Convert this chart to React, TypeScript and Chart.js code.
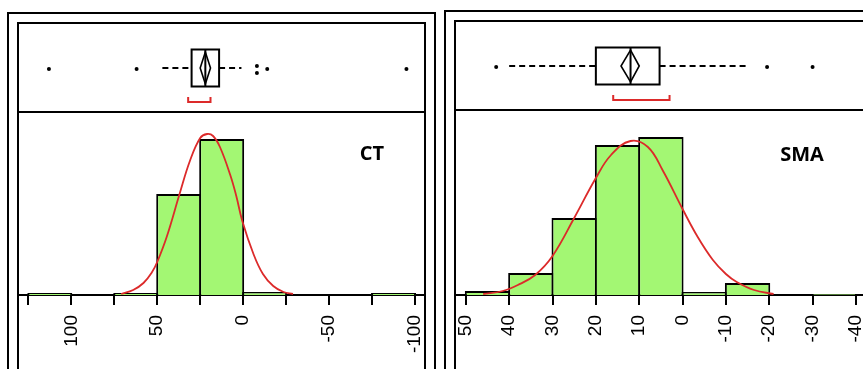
import React, { useEffect, useRef } from 'react';
import { Chart, registerables } from 'chart.js';

Chart.register(...registerables);

// ---------- CT panel data ----------
const ctTitle = 'CT';
const ctBinCenters = [112.5, 87.5, 62.5, 37.5, 12.5, -12.5, -37.5, -62.5, -87.5];
const ctCounts = [2, 0, 2, 101, 156, 3, 0, 0, 2];
const ctCurveX = [71, 64, 58, 53, 50, 44.5, 37, 31, 25, 21, 17.5, 13.5, 7.5, 4, 0.5, -6, -11.5, -17.5, -23.5, -29];
const ctCurveY = [1, 5, 12, 23, 33, 58, 101, 134, 157, 161, 159, 148, 120, 99, 74, 41, 21, 9, 3, 1];
const ctQuartiles = [14, 22, 30]; // Q1, median, Q3
const ctWhiskers = [1, 47];
const ctMean = 22;
const ctMeanCI = [19, 25];
const ctShortestHalf = [19, 32];
const ctOutliers = [113, 62, -8, -8, -14, -95];
const ctTickLabels = [100, 50, 0, -50, -100];
const ctTickStep = 25;
const ctAxisRange = [-105.8, 131];

// ---------- SMA panel data ----------
const smaTitle = 'SMA';
const smaBinCenters = [45, 35, 25, 15, 5, -5, -15, -25, -35];
const smaCounts = [4, 22, 77, 150, 158, 3, 12, 0, 1];
const smaCurveX = [46, 41.5, 38, 34, 30, 25, 20, 16.5, 12, 8, 4.5, 0, -3.5, -7, -10, -12.5, -16.5, -21];
const smaCurveY = [1, 4, 10, 20, 39, 77, 117, 140, 154, 148, 124, 86, 58, 35, 21, 13, 5, 1];
const smaQuartiles = [5.3, 12, 20];
const smaWhiskers = [-15, 40];
const smaMean = 12;
const smaMeanCI = [10, 14.2];
const smaShortestHalf = [3, 16];
const smaOutliers = [43, -19.5, -30];
const smaTickLabels = [50, 40, 30, 20, 10, 0, -10, -20, -30, -40];
const smaTickStep = 10;
const smaAxisRange = [-44.4, 52.5];

const GREEN = '#a3f773';
const RED = '#dc2a2a';

type Panel = {
  title: string;
  binCenters: number[];
  counts: number[];
  curveX: number[];
  curveY: number[];
  quartiles: number[];
  whiskers: number[];
  mean: number;
  meanCI: number[];
  shortestHalf: number[];
  outliers: number[];
  tickLabels: number[];
  tickStep: number;
  range: number[];
  pad: { left: number; right: number; top: number };
  yMax: number;
  titleDX: number;
  titleDY: number;
};

const panels: Panel[] = [
  {
    title: ctTitle, binCenters: ctBinCenters, counts: ctCounts, curveX: ctCurveX, curveY: ctCurveY,
    quartiles: ctQuartiles, whiskers: ctWhiskers, mean: ctMean, meanCI: ctMeanCI,
    shortestHalf: ctShortestHalf, outliers: ctOutliers, tickLabels: ctTickLabels,
    tickStep: ctTickStep, range: ctAxisRange,
    pad: { left: 18, right: 15, top: 112 }, yMax: 183, titleDX: 354, titleDY: 42,
  },
  {
    title: smaTitle, binCenters: smaBinCenters, counts: smaCounts, curveX: smaCurveX, curveY: smaCurveY,
    quartiles: smaQuartiles, whiskers: smaWhiskers, mean: smaMean, meanCI: smaMeanCI,
    shortestHalf: smaShortestHalf, outliers: smaOutliers, tickLabels: smaTickLabels,
    tickStep: smaTickStep, range: smaAxisRange,
    pad: { left: 15, right: 15, top: 110 }, yMax: 185, titleDX: 347, titleDY: 45,
  },
];

function makePlugin(p: Panel) {
  return {
    id: 'jmpPanel',
    afterDraw(chart: any) {
      const ctx = chart.ctx as CanvasRenderingContext2D;
      const { left, right, top } = chart.chartArea;
      const xs = chart.scales.x;
      const px = (v: number) => xs.getPixelForValue(v);
      const regionTop = top - 89;
      const H = chart.height;
      ctx.save();
      ctx.strokeStyle = '#000';
      ctx.fillStyle = '#000';
      ctx.lineWidth = 2;
      // frames
      ctx.strokeRect(left, regionTop, right - left, H + 40 - regionTop);
      ctx.strokeRect(left - 10, regionTop - 10, right - left + 20, H + 60 - regionTop);
      ctx.beginPath();
      ctx.moveTo(left, top);
      ctx.lineTo(right, top);
      ctx.stroke();

      // box plot
      const cy = regionTop + 45;
      const hh = 18.5;
      const [q1, med, q3] = p.quartiles;
      ctx.setLineDash([6, 4]);
      ctx.beginPath();
      ctx.moveTo(px(p.whiskers[1]), cy);
      ctx.lineTo(px(q3), cy);
      ctx.moveTo(px(q1), cy);
      ctx.lineTo(px(p.whiskers[0]), cy);
      ctx.stroke();
      ctx.setLineDash([]);
      const bx0 = Math.min(px(q1), px(q3));
      const bx1 = Math.max(px(q1), px(q3));
      ctx.strokeRect(bx0, cy - hh, bx1 - bx0, hh * 2);
      ctx.beginPath();
      ctx.moveTo(px(med), cy - hh);
      ctx.lineTo(px(med), cy + hh);
      ctx.stroke();
      // mean diamond
      ctx.lineWidth = 1.6;
      ctx.beginPath();
      ctx.moveTo(px(p.meanCI[0]), cy);
      ctx.lineTo(px(p.mean), cy - 16);
      ctx.lineTo(px(p.meanCI[1]), cy);
      ctx.lineTo(px(p.mean), cy + 16);
      ctx.closePath();
      ctx.stroke();
      // outliers
      const seen: Record<string, number> = {};
      const totals: Record<string, number> = {};
      p.outliers.forEach((v) => { totals[v] = (totals[v] || 0) + 1; });
      p.outliers.forEach((v) => {
        const k = seen[v] || 0;
        seen[v] = k + 1;
        const n = totals[v];
        const oy = cy + 1 + (n > 1 ? k * 7 - (n - 1) * 3 : 0);
        ctx.beginPath();
        ctx.arc(px(v), oy, 2, 0, Math.PI * 2);
        ctx.fill();
      });
      // shortest half bracket
      ctx.strokeStyle = RED;
      ctx.lineWidth = 2;
      const by = top - 10;
      ctx.beginPath();
      ctx.moveTo(px(p.shortestHalf[0]), by - 5);
      ctx.lineTo(px(p.shortestHalf[0]), by);
      ctx.lineTo(px(p.shortestHalf[1]), by);
      ctx.lineTo(px(p.shortestHalf[1]), by - 5);
      ctx.stroke();

      // title text
      ctx.fillStyle = '#000';
      ctx.font = 'bold 20px "Open Sans"';
      ctx.textAlign = 'center';
      ctx.textBaseline = 'middle';
      ctx.fillText(p.title, left + p.titleDX, top + p.titleDY);
      ctx.restore();
    },
  };
}

function buildChart(canvas: HTMLCanvasElement, p: Panel) {
  return new Chart(canvas, {
    type: 'bar',
    data: {
      datasets: [
        {
          type: 'line',
          data: p.curveX.map((x, i) => ({ x, y: p.curveY[i] })),
          borderColor: RED,
          borderWidth: 1.8,
          pointRadius: 0,
          tension: 0.4,
          fill: false,
          order: 0,
        } as any,
        {
          type: 'bar',
          data: p.binCenters.map((x, i) => ({ x, y: p.counts[i] })),
          backgroundColor: GREEN,
          borderColor: '#000',
          borderWidth: { top: 2, left: 2, right: 2, bottom: 0 },
          borderSkipped: false,
          inflateAmount: 0,
          barPercentage: 1.047,
          categoryPercentage: 1,
          order: 1,
        } as any,
      ],
    },
    options: {
      responsive: false,
      maintainAspectRatio: false,
      animation: false,
      events: [],
      layout: { padding: { left: p.pad.left, right: p.pad.right, top: p.pad.top, bottom: 0 } },
      plugins: { legend: { display: false }, tooltip: { enabled: false } },
      scales: {
        x: {
          type: 'linear',
          reverse: true,
          min: p.range[0],
          max: p.range[1],
          offset: false,
          grid: { drawOnChartArea: false, drawTicks: true, tickLength: 10, color: '#000', lineWidth: 2, offset: false },
          border: { display: true, color: '#000', width: 2 },
          ticks: {
            stepSize: p.tickStep,
            autoSkip: false,
            includeBounds: false,
            minRotation: 90,
            maxRotation: 90,
            padding: 10,
            color: '#000',
            font: { family: '"Liberation Sans", Arial, sans-serif', size: 19 },
            callback: (v: any) => (p.tickLabels.some((l) => Math.abs(l - Number(v)) < 1e-6) ? String(Math.round(Number(v))) : ''),
          },
          afterFit: (s: any) => {
            s.height = 74;
            s.paddingLeft = 0;
            s.paddingRight = 0;
            s.paddingTop = 0;
            s.paddingBottom = 0;
          },
        },
        y: { display: false, min: 0, max: p.yMax },
      },
    } as any,
    plugins: [makePlugin(p)],
  });
}

export default function App() {
  const leftRef = useRef<HTMLCanvasElement>(null);
  const rightRef = useRef<HTMLCanvasElement>(null);
  useEffect(() => {
    const c1 = buildChart(leftRef.current!, panels[0]);
    const c2 = buildChart(rightRef.current!, panels[1]);
    return () => {
      c1.destroy();
      c2.destroy();
    };
  }, []);
  return (
    <div style={{ position: 'absolute', left: 0, top: 0, width: 863, height: 369, overflow: 'hidden', background: '#fff' }}>
      <canvas ref={leftRef} width={440} height={369} style={{ position: 'absolute', left: 0, top: 0 }} />
      <canvas ref={rightRef} width={450} height={369} style={{ position: 'absolute', left: 440, top: 0 }} />
    </div>
  );
}
